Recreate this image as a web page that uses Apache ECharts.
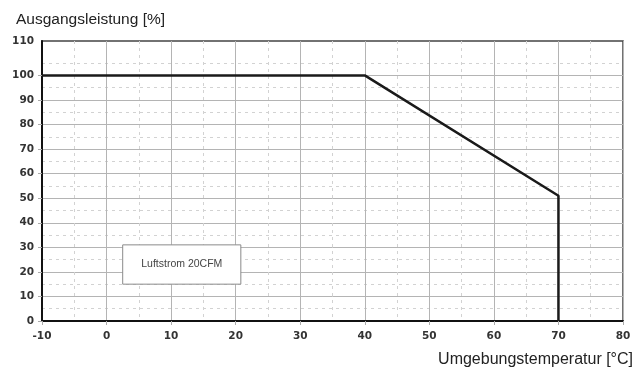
<!DOCTYPE html>
<html>
<head>
<meta charset="utf-8">
<script src="https://cdn.jsdelivr.net/npm/echarts@6/dist/echarts.min.js"></script>
<style>
  html, body { margin: 0; padding: 0; background: #fff; }
  #chart { width: 635px; height: 367px; }
</style>
</head>
<body>
<div id="chart"></div>
<script>
  // Derating-Kurve (Temperatur in °C, Leistung in %)
  const tempPoints = [-10, 40, 70, 70];
  const powerPoints = [100, 100, 51, 0];

  const xTickValues = [-10, 0, 10, 20, 30, 40, 50, 60, 70, 80];
  const yTickValues = [0, 10, 20, 30, 40, 50, 60, 70, 80, 90, 100];
  // oberer Rand der Skala, dort steht im Original die Beschriftung 110
  const yTopValue = 114;
  const yTopLabel = '110';

  const noteText = 'Luftstrom 20CFM';
  const noteFrom = [2.5, 31];
  const noteTo = [20.8, 15];

  const chart = echarts.init(document.getElementById('chart'), null, { renderer: 'canvas' });

  const lineData = tempPoints.map((t, i) => [t, powerPoints[i]]);

  chart.setOption({
    animation: false,
    backgroundColor: '#fff',
    textStyle: { fontFamily: 'Liberation Sans, Arial, sans-serif' },
    title: [
      {
        text: 'Ausgangsleistung [%]',
        left: 16,
        top: 12,
        padding: 0,
        textStyle: { fontSize: 15.5, fontWeight: 'normal', color: '#222' }
      },
      {
        text: 'Umgebungstemperatur [°C]',
        right: 2,
        top: 352,
        padding: 0,
        textStyle: { fontSize: 16, fontWeight: 'normal', color: '#222' }
      }
    ],
    grid: {
      left: 42,
      top: 41,
      right: 12,
      bottom: 46,
      show: true,
      borderColor: '#444',
      borderWidth: 1.5,
      containLabel: false
    },
    xAxis: {
      type: 'value',
      min: xTickValues[0],
      max: xTickValues[xTickValues.length - 1],
      interval: 10,
      axisLine: { onZero: false, lineStyle: { color: '#111', width: 2 } },
      axisTick: { show: true, length: 4, lineStyle: { color: '#aaa' } },
      axisLabel: {
        margin: 10,
        fontFamily: 'DejaVu Sans',
        fontWeight: 'bold',
        fontSize: 10.5,
        color: '#333',
        showMaxLabel: true,
        showMinLabel: true
      },
      splitLine: { show: true, lineStyle: { color: '#b4b4b4', width: 1 } },
      minorTick: { show: false, splitNumber: 2 },
      minorSplitLine: { show: true, lineStyle: { color: '#d2d2d2', width: 1, type: [3, 4] } }
    },
    yAxis: {
      type: 'value',
      min: 0,
      max: yTopValue,
      interval: 10,
      axisLine: { show: true, onZero: false, lineStyle: { color: '#111', width: 2 } },
      axisTick: { show: true, length: 4, customValues: yTickValues, lineStyle: { color: '#aaa' } },
      axisLabel: {
        margin: 8,
        customValues: yTickValues.concat([yTopValue]),
        formatter: (v) => (v === yTopValue ? yTopLabel : String(v)),
        fontFamily: 'DejaVu Sans',
        fontWeight: 'bold',
        fontSize: 10.5,
        color: '#333'
      },
      splitLine: { show: true, lineStyle: { color: '#b4b4b4', width: 1 } },
      minorTick: { show: false, splitNumber: 2 },
      minorSplitLine: { show: true, lineStyle: { color: '#d2d2d2', width: 1, type: [3, 4] } }
    },
    series: [
      {
        type: 'line',
        data: lineData,
        symbol: 'none',
        lineStyle: { color: '#1a1a1a', width: 2.5 },
        z: 5,
        markArea: {
          silent: true,
          itemStyle: { color: '#fff', opacity: 1, borderColor: '#8a8a8a', borderWidth: 1 },
          label: {
            show: true,
            position: 'inside',
            color: '#444',
            fontSize: 10.5,
            fontFamily: 'Liberation Sans, Arial, sans-serif'
          },
          data: [[
            { name: noteText, coord: noteFrom },
            { coord: noteTo }
          ]]
        }
      }
    ]
  });

  window.onresize = chart.resize;
</script>
</body>
</html>
